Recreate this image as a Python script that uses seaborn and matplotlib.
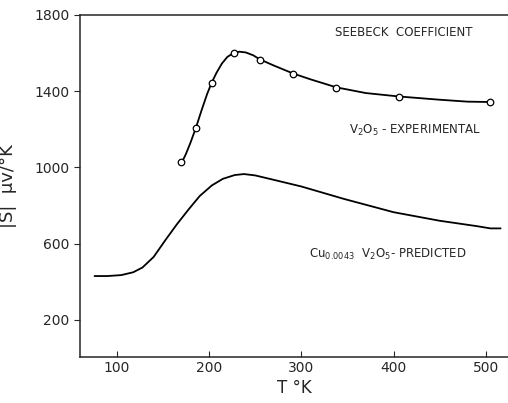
import matplotlib
matplotlib.use("Agg")
import matplotlib.pyplot as plt
import pandas as pd
import seaborn as sns

sns.set_style("ticks")
plt.rcParams["font.family"] = ["DejaVu Sans"]

# V2O5 experimental: measured points
exp_pts_t = [170, 186, 203, 227, 255, 291, 338, 406, 505]
exp_pts_s = [1026, 1209, 1444, 1601, 1565, 1492, 1418, 1371, 1345]

# smooth curve drawn through the experimental points
exp_curve_t = [170, 175, 180, 186, 192, 198, 203, 208, 214, 220, 227, 233,
               240, 248, 255, 270, 291, 310, 338, 370, 406, 450, 480, 505]
exp_curve_s = [1020, 1070, 1130, 1210, 1300, 1385, 1445, 1495, 1545, 1580,
               1601, 1607, 1603, 1588, 1567, 1535, 1493, 1462, 1420, 1390,
               1372, 1355, 1345, 1343]

# Cu0.0043 V2O5 predicted curve
pred_t = [76, 90, 105, 118, 128, 140, 153, 165, 178, 190, 203, 215, 228,
          238, 250, 270, 300, 346, 400, 450, 490, 505, 516]
pred_s = [430, 430, 435, 450, 475, 530, 620, 700, 780, 850, 905, 940, 960,
          965, 958, 935, 900, 835, 765, 720, 692, 680, 680]

x_ticks = [100, 200, 300, 400, 500]
y_ticks = [200, 600, 1000, 1400, 1800]

exp_curve = pd.DataFrame({"T": exp_curve_t, "S": exp_curve_s})
exp_pts = pd.DataFrame({"T": exp_pts_t, "S": exp_pts_s})
pred = pd.DataFrame({"T": pred_t, "S": pred_s})

fig = plt.figure(figsize=(5.08, 4.03), dpi=100)
ax = fig.add_axes([0.157, 0.114, 0.843, 0.849])

sns.lineplot(data=pred, x="T", y="S", color="black", lw=1.3, ax=ax)
sns.lineplot(data=exp_curve, x="T", y="S", color="black", lw=1.3, ax=ax)
sns.scatterplot(data=exp_pts, x="T", y="S", marker="o", s=22,
                facecolor="white", edgecolor="black", linewidth=0.9, zorder=3, ax=ax)

ax.set_xlim(60, 524)
ax.set_ylim(5, 1800)
ax.set_xticks(x_ticks)
ax.set_yticks(y_ticks)
ax.tick_params(axis="x", direction="in", length=4, labelsize=10, pad=3)
ax.tick_params(axis="y", direction="out", length=4, labelsize=10)
ax.spines["right"].set_visible(False)
for sp in ["left", "bottom", "top"]:
    ax.spines[sp].set_linewidth(1.1)

ax.set_xlabel("T °K", fontsize=12, labelpad=3)
ax.set_ylabel("|S|  μv/°K", fontsize=13, labelpad=12)

ax.text(337, 1708, "SEEBECK  COEFFICIENT", fontsize=8.5, ha="left", va="center")
ax.text(352, 1195, "V$_2$O$_5$ - EXPERIMENTAL", fontsize=8.5, ha="left", va="center")
ax.text(308, 545, "Cu$_{0.0043}$  V$_2$O$_5$- PREDICTED", fontsize=8.5, ha="left", va="center")

fig.savefig("out.png", dpi=100)
